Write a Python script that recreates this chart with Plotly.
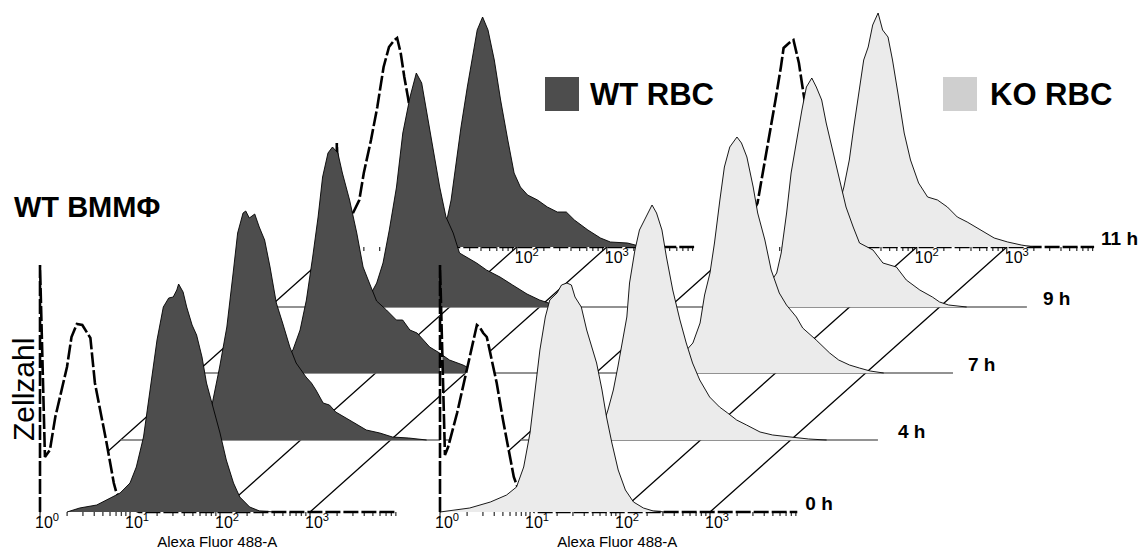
import math
import plotly.graph_objects as go

# ------------------------------------------------------------------ data
time_labels = ["0 h", "4 h", "7 h", "9 h", "11 h"]
tick_labels = ["10<sup>0</sup>", "10<sup>1</sup>", "10<sup>2</sup>", "10<sup>3</sup>"]
major_decades = [0, 1, 2, 3]
minor_mult = [2, 3, 4, 5, 6, 7, 8, 9]
axis_title = "Alexa Fluor 488-A"

# histograms: log10(Alexa Fluor 488-A) positions and cell counts
wt_0h_log = [0.30, 0.44, 0.63, 0.78, 0.89, 1.00, 1.07, 1.15, 1.22, 1.30, 1.37, 1.43, 1.48, 1.52, 1.54, 1.59, 1.63, 1.69, 1.74, 1.80, 1.85, 1.93, 2.00, 2.07, 2.15, 2.22, 2.33, 2.44, 2.60]
wt_0h_cnt = [0, 4, 7, 14, 19, 29, 45, 75, 122, 172, 205, 214, 215, 222, 228, 220, 205, 187, 177, 155, 129, 102, 79, 52, 29, 15, 5, 1, 0]

wt_4h_log = [0.30, 0.60, 0.85, 1.01, 1.10, 1.18, 1.25, 1.30, 1.36, 1.39, 1.43, 1.49, 1.54, 1.60, 1.66, 1.73, 1.80, 1.88, 1.95, 2.06, 2.12, 2.17, 2.25, 2.32, 2.39, 2.51, 2.58, 2.73, 2.88, 3.02, 3.20, 3.40]
wt_4h_cnt = [0, 4, 16, 33, 73, 113, 167, 207, 227, 229, 222, 226, 213, 200, 173, 137, 117, 93, 77, 63, 57, 50, 37, 35, 28, 22, 18, 10, 7, 3, 2, 0]

wt_7h_log = [0.40, 0.80, 1.00, 1.08, 1.16, 1.23, 1.30, 1.36, 1.41, 1.47, 1.52, 1.58, 1.63, 1.71, 1.79, 1.86, 1.93, 2.01, 2.12, 2.23, 2.30, 2.38, 2.46, 2.60, 2.71, 2.82, 2.97, 3.08, 3.30]
wt_7h_cnt = [0, 5, 14, 23, 43, 73, 116, 156, 196, 220, 226, 220, 200, 173, 140, 106, 90, 72, 63, 53, 53, 43, 40, 26, 20, 13, 8, 3, 0]

wt_9h_log = [0.50, 0.90, 1.13, 1.19, 1.26, 1.33, 1.41, 1.48, 1.56, 1.63, 1.69, 1.74, 1.81, 1.89, 1.96, 2.04, 2.11, 2.19, 2.30, 2.41, 2.56, 2.70, 2.86, 3.00, 3.10, 3.30]
wt_9h_cnt = [0, 6, 14, 24, 44, 77, 120, 174, 210, 234, 224, 197, 160, 120, 90, 74, 54, 50, 44, 37, 30, 22, 13, 7, 4, 0]

wt_11h_log = [0.60, 1.00, 1.15, 1.23, 1.27, 1.32, 1.38, 1.45, 1.51, 1.56, 1.62, 1.68, 1.75, 1.82, 1.90, 1.97, 2.04, 2.12, 2.23, 2.34, 2.45, 2.55, 2.64, 2.79, 2.93, 3.04, 3.23, 3.40]
wt_11h_cnt = [0, 8, 18, 30, 47, 80, 120, 160, 190, 217, 230, 217, 187, 147, 107, 74, 60, 52, 47, 40, 35, 35, 27, 17, 9, 5, 4, 0]

ko_0h_log = [0.00, 0.33, 0.56, 0.74, 0.85, 0.93, 1.00, 1.06, 1.11, 1.17, 1.22, 1.30, 1.35, 1.41, 1.46, 1.50, 1.57, 1.63, 1.69, 1.74, 1.80, 1.85, 1.91, 1.98, 2.06, 2.15, 2.26, 2.37, 2.50]
ko_0h_cnt = [0, 4, 10, 17, 25, 45, 79, 122, 162, 195, 212, 219, 227, 229, 227, 215, 205, 182, 165, 149, 122, 95, 69, 42, 22, 10, 4, 1, 0]

ko_4h_log = [0.20, 0.50, 0.75, 0.91, 0.97, 1.03, 1.08, 1.13, 1.18, 1.21, 1.27, 1.32, 1.40, 1.46, 1.51, 1.57, 1.62, 1.69, 1.77, 1.84, 1.91, 1.99, 2.10, 2.21, 2.30, 2.40, 2.51, 2.66, 2.80, 2.99, 3.20, 3.40]
ko_4h_cnt = [0, 3, 7, 13, 30, 50, 73, 97, 123, 157, 190, 210, 225, 235, 227, 210, 183, 150, 120, 97, 77, 60, 43, 33, 27, 20, 15, 8, 5, 3, 1, 0]

ko_7h_log = [0.30, 0.60, 0.90, 1.08, 1.16, 1.21, 1.27, 1.32, 1.38, 1.43, 1.49, 1.57, 1.62, 1.68, 1.75, 1.80, 1.88, 1.95, 2.04, 2.12, 2.23, 2.30, 2.45, 2.60, 2.70, 2.82, 2.93, 3.05, 3.20]
ko_7h_cnt = [0, 4, 12, 30, 50, 78, 100, 130, 173, 206, 226, 236, 230, 216, 186, 160, 133, 103, 80, 68, 56, 45, 33, 20, 13, 8, 5, 2, 0]

ko_9h_log = [0.40, 0.80, 1.05, 1.19, 1.24, 1.30, 1.35, 1.41, 1.47, 1.52, 1.58, 1.63, 1.69, 1.74, 1.81, 1.89, 1.96, 2.04, 2.11, 2.26, 2.37, 2.52, 2.63, 2.78, 2.92, 3.00, 3.10, 3.30]
ko_9h_cnt = [0, 6, 15, 34, 54, 94, 134, 167, 197, 220, 229, 220, 207, 184, 157, 127, 100, 80, 64, 57, 44, 40, 27, 17, 10, 5, 2, 0]

ko_11h_log = [0.50, 0.85, 1.05, 1.16, 1.19, 1.25, 1.30, 1.36, 1.41, 1.46, 1.51, 1.57, 1.62, 1.68, 1.73, 1.79, 1.86, 1.93, 2.02, 2.12, 2.23, 2.34, 2.45, 2.56, 2.71, 2.86, 3.01, 3.16, 3.30]
ko_11h_cnt = [0, 8, 25, 50, 60, 87, 120, 154, 187, 200, 222, 234, 217, 210, 187, 154, 114, 87, 64, 50, 47, 40, 30, 25, 17, 9, 5, 2, 0]

# unstained controls (dashed), front (0 h) and back (11 h) of each panel
ctl_wt_front_log = [0.00, 0.00, 0.055, 0.11, 0.17, 0.22, 0.30, 0.35, 0.41, 0.47, 0.52, 0.56, 0.61, 0.67, 0.74, 0.82, 0.85, 0.95, 1.10, 3.97]
ctl_wt_front_cnt = [0, 247, 55, 62, 95, 115, 145, 175, 188, 187, 179, 174, 129, 102, 69, 29, 19, 6, 0, 0]
ctl_ko_front_log = [0.00, 0.00, 0.055, 0.09, 0.19, 0.24, 0.30, 0.36, 0.41, 0.44, 0.48, 0.52, 0.57, 0.63, 0.70, 0.76, 0.82, 0.90, 1.05, 3.97]
ctl_ko_front_cnt = [0, 247, 57, 65, 99, 119, 142, 169, 187, 185, 179, 175, 155, 129, 92, 62, 35, 15, 0, 0]
ctl_wt_back_log = [0.00, 0.00, 0.04, 0.12, 0.18, 0.25, 0.30, 0.38, 0.45, 0.52, 0.58, 0.64, 0.67, 0.71, 0.75, 0.79, 0.90, 1.00, 1.10, 1.30, 3.97]
ctl_wt_back_cnt = [0, 104, 15, 22, 34, 47, 74, 107, 140, 180, 200, 207, 209, 194, 170, 150, 90, 40, 15, 0, 0]
ctl_ko_back_log = [0.00, 0.00, 0.04, 0.12, 0.23, 0.30, 0.38, 0.43, 0.49, 0.52, 0.58, 0.63, 0.69, 0.74, 0.85, 0.95, 1.05, 1.25, 3.97]
ctl_ko_back_cnt = [0, 104, 15, 25, 44, 80, 117, 147, 180, 199, 204, 207, 184, 154, 95, 50, 20, 0, 0]

wt_hist = [(wt_0h_log, wt_0h_cnt), (wt_4h_log, wt_4h_cnt), (wt_7h_log, wt_7h_cnt),
           (wt_9h_log, wt_9h_cnt), (wt_11h_log, wt_11h_cnt)]
ko_hist = [(ko_0h_log, ko_0h_cnt), (ko_4h_log, ko_4h_cnt), (ko_7h_log, ko_7h_cnt),
           (ko_9h_log, ko_9h_cnt), (ko_11h_log, ko_11h_cnt)]

# ------------------------------------------------------------------ layout constants
W, H = 1147, 549
PX_DEC = 90.0            # pixels per decade
ORIGIN_X, BASE_Y = 40, 512
AXIS_DEC = 3.97          # axis length in decades
SLANT = 1.12             # horizontal/vertical ratio of the stagger
STAGGER = [0, 72, 139, 205, 265]   # vertical stagger of the layers
PANEL_SHIFT = 400 / PX_DEC
LABEL_GAP = [8, 20, 15, 16, 7]     # gap between axis end and time label (px)

WT_FILL = "#4d4d4d"
KO_FILL = "#ebebeb"
KO_LEGEND = "#cfcfcf"
FONT = "Arial, Liberation Sans, sans-serif"
DASH = "15px,3px"


def offset(panel, k):
    dy = STAGGER[k]
    return dy * SLANT / PX_DEC + panel * PANEL_SHIFT, dy


fig = go.Figure()


def seg_trace(xs, ys, color, width, dash=None):
    fig.add_trace(go.Scatter(x=xs, y=ys, mode="lines", hoverinfo="skip",
                             line=dict(color=color, width=width, dash=dash)))


def ticks_and_labels(dx, dy, label_shift):
    xs, ys = [], []
    for d in major_decades:
        xs += [d + dx, d + dx, None]
        ys += [dy, dy - 6, None]
        for m in minor_mult:
            v = d + math.log10(m)
            if v <= AXIS_DEC:
                xs += [v + dx, v + dx, None]
                ys += [dy, dy - 4, None]
    seg_trace(xs, ys, "black", 1)
    fig.add_trace(go.Scatter(
        x=[d + dx + label_shift / PX_DEC for d in major_decades],
        y=[dy - 4] * len(major_decades),
        mode="text", text=tick_labels, textposition="bottom center",
        textfont=dict(family=FONT, size=16, color="black"), hoverinfo="skip"))


for panel, hists, fillc, ctl_front, ctl_back in [
        (0, wt_hist, WT_FILL, (ctl_wt_front_log, ctl_wt_front_cnt), (ctl_wt_back_log, ctl_wt_back_cnt)),
        (1, ko_hist, KO_FILL, (ctl_ko_front_log, ctl_ko_front_cnt), (ctl_ko_back_log, ctl_ko_back_cnt))]:
    # diagonal decade guide lines from front axis to back axis
    fx, fy = offset(panel, 0)
    bx, by = offset(panel, 4)
    xs, ys = [], []
    for d in major_decades:
        xs += [d + fx, d + bx, None]
        ys += [fy, by, None]
    seg_trace(xs, ys, "black", 1.3)

    for k in [4, 3, 2, 1, 0]:
        dx, dy = offset(panel, k)
        if k in (0, 4):
            cl, cc = ctl_front if k == 0 else ctl_back
            fig.add_trace(go.Scatter(
                x=[v + dx for v in cl], y=[c + dy for c in cc], mode="lines",
                fill="toself", fillcolor="white", hoverinfo="skip",
                line=dict(color="black", width=2.6, dash=DASH)))
        else:
            seg_trace([dx, AXIS_DEC + dx], [dy, dy], "#6e6e6e", 1.3)
        hl, hc = hists[k]
        fig.add_trace(go.Scatter(
            x=[v + dx for v in hl], y=[c + dy for c in hc], mode="lines",
            fill="toself", fillcolor=fillc, hoverinfo="skip",
            line=dict(color="black", width=0.9)))
        if k in (0, 4):
            ticks_and_labels(dx, dy, 7 if k == 0 else 10)

    # x axis title under the front axis
    fig.add_trace(go.Scatter(
        x=[fx + 1.97], y=[fy - 31], mode="text", text=[axis_title],
        textposition="middle center", hoverinfo="skip",
        textfont=dict(family=FONT, size=15, color="black")))

# time labels at the right end of the KO layers
tx, ty = [], []
for k in range(5):
    dx, dy = offset(1, k)
    tx.append(AXIS_DEC + dx + LABEL_GAP[k] / PX_DEC)
    ty.append(dy + 7)
fig.add_trace(go.Scatter(
    x=tx, y=ty, mode="text", text=["<b>%s</b>" % t for t in time_labels],
    textposition="middle right", hoverinfo="skip",
    textfont=dict(family=FONT, size=19, color="black")))


def px_x(p):
    return p / W


def px_y(p):
    return 1 - p / H


annotations = [
    dict(x=px_x(588), y=px_y(94), text="<b>WT RBC</b>", xanchor="left", yanchor="middle",
         font=dict(family=FONT, size=31, color="black")),
    dict(x=px_x(988), y=px_y(94), text="<b>KO RBC</b>", xanchor="left", yanchor="middle",
         font=dict(family=FONT, size=31, color="black")),
    dict(x=px_x(12), y=px_y(207), text="<b>WT BMMΦ</b>", xanchor="left", yanchor="middle",
         font=dict(family=FONT, size=29, color="black")),
    dict(x=px_x(23), y=px_y(390), text="Zellzahl", textangle=-90, xanchor="center",
         yanchor="middle", font=dict(family=FONT, size=30, color="black")),
]
for a in annotations:
    a.update(xref="paper", yref="paper", showarrow=False)

shapes = [
    dict(type="rect", xref="paper", yref="paper", x0=px_x(545), x1=px_x(579),
         y0=px_y(111), y1=px_y(77), fillcolor=WT_FILL, line=dict(width=0)),
    dict(type="rect", xref="paper", yref="paper", x0=px_x(943), x1=px_x(977),
         y0=px_y(111), y1=px_y(77), fillcolor=KO_LEGEND, line=dict(width=0)),
]

fig.update_layout(
    width=W, height=H, margin=dict(l=0, r=0, t=0, b=0),
    paper_bgcolor="white", plot_bgcolor="white", showlegend=False,
    xaxis=dict(range=[-ORIGIN_X / PX_DEC, (W - ORIGIN_X) / PX_DEC], visible=False, fixedrange=True),
    yaxis=dict(range=[BASE_Y - H, BASE_Y], visible=False, fixedrange=True),
    annotations=annotations, shapes=shapes,
)

fig.write_html("out.html", config={"displayModeBar": False},
               post_script="document.body.style.margin='0px';document.body.style.overflow='hidden';")
